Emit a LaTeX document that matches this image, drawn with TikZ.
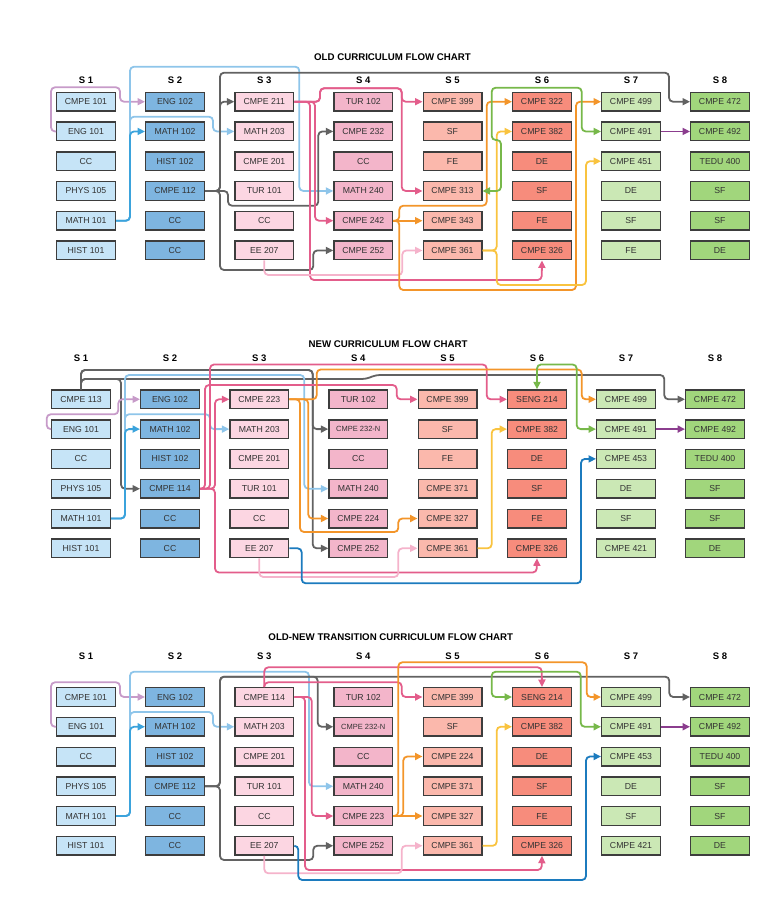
\documentclass[tikz,border=0pt]{standalone}
\usepackage{fontspec}
\setmainfont{Liberation Sans}
\usetikzlibrary{arrows.meta}

\definecolor{boxline}{HTML}{3D3D3D}
\definecolor{textgrey}{HTML}{333333}
\definecolor{sem1}{HTML}{C6E4F7}
\definecolor{sem2}{HTML}{7EB5E0}
\definecolor{sem3}{HTML}{FCD6E2}
\definecolor{sem4}{HTML}{F3B5CA}
\definecolor{sem5}{HTML}{FBB8AC}
\definecolor{sem6}{HTML}{F78C7C}
\definecolor{sem7}{HTML}{CBE8B5}
\definecolor{sem8}{HTML}{A1D67C}
\definecolor{clav}{HTML}{C79BC9}
\definecolor{clight}{HTML}{8EC5EA}
\definecolor{cblue}{HTML}{3BA3DC}
\definecolor{cdeep}{HTML}{1C7BBE}
\definecolor{cgrey}{HTML}{626262}
\definecolor{cpink}{HTML}{E35D8B}
\definecolor{clpink}{HTML}{F5B3CB}
\definecolor{corange}{HTML}{F3952A}
\definecolor{cyellow}{HTML}{F9C33F}
\definecolor{cgreen}{HTML}{77B84A}
\definecolor{cpurple}{HTML}{8B3D8E}

\newcommand\smallcode{\fontsize{7.5}{9}\selectfont}

\tikzset{
  course/.style={draw=boxline, line width=1.4pt, minimum width=58.6pt,
    minimum height=18.6pt, inner sep=0pt, text=textgrey,
    font=\fontsize{8.7}{10}\selectfont},
  semlabel/.style={font=\bfseries\fontsize{9.5}{11}\selectfont},
  charttitle/.style={font=\bfseries\fontsize{9.7}{11}\selectfont},
  link/.style={line width=1.8pt, rounded corners=4pt, ->},
}

\begin{document}
\begin{tikzpicture}
  [x=1pt, y=-1pt, >={Triangle[length=7.5pt,width=7pt]}]
  \useasboundingbox (0,0) rectangle (781,906);

  % old curriculum
  \node[charttitle] (otitle) at (392.5,57) {OLD CURRICULUM FLOW CHART};
  \foreach \s/\x/\list in {
    1/86/{CMPE 101,ENG 101,CC,PHYS 105,MATH 101,HIST 101},
    2/175/{ENG 102,MATH 102,HIST 102,CMPE 112,CC,CC},
    3/264.3/{CMPE 211,MATH 203,CMPE 201,TUR 101,CC,EE 207},
    4/363.3/{TUR 102,CMPE 232,CC,MATH 240,CMPE 242,CMPE 252},
    5/452.5/{CMPE 399,SF,FE,CMPE 313,CMPE 343,CMPE 361},
    6/542/{CMPE 322,CMPE 382,DE,SF,FE,CMPE 326},
    7/631/{CMPE 499,CMPE 491,CMPE 451,DE,SF,FE},
    8/720/{CMPE 472,CMPE 492,TEDU 400,SF,SF,DE}}
  {
    \node[semlabel] (os\s) at (\x,80.7) {S \s};
    \foreach \t [count=\r] in \list
      \node[course, fill=sem\s] (o\s\r) at (\x,{101.7+29.75*(\r-1)}) {\t};
  }

  \draw[link, clav] (o12.west) -- (51,131.45) |- (120,87.3) |- (o21.west);
  \draw[link, clight] (o15.east) -| (130,66.7) -- (299.3,66.7) |- (o44.west);
  \draw[link, clight] (o15.east) -| (130,116.7) -- (213,116.7) |- (o32.west);
  \draw[link, cblue] (o15.east) -- (130,220.7) |- (o22.west);
  \draw[link, cgrey] (o24.east) -- (228,190.95) |- (318.3,205.7) |- (o42.west);
  \draw[link, cgrey] (o24.east) -- (220,190.95) |- (o31.west);
  \draw[link, cgrey] (o24.east) -| (220,72.7) -- (669,72.7) |- (o81.west);
  \draw[link, cgrey] (o24.east) -| (220,270) -- (313.3,270) |- (o46.west);
  \draw[link, cpink] (o31.east) -- (320,101.7) |- (401.7,88.3) |- (o51.west);
  \draw[link, cpink] (o31.east) -- (320,101.7) |- (401.7,88.3) |- (o54.west);
  \draw[link, cpink] (o31.east) -- (315,101.7) |- (o45.west);
  \draw[link, cpink] (o31.east) -- (310,101.7) |- (541.7,280) -- (o66.south);
  \draw[link, clpink] (o36.south) |- (402.3,275) |- (o56.west);
  \draw[link, corange] (o45.east) -- (o55.west);
  \draw[link, corange] (o45.east) -- (399.3,220.7) |- (486.7,205.7) |- (o61.west);
  \draw[link, corange] (o45.east) -- (399.3,220.7) |- (576,290) |- (o71.west);
  \draw[link, cyellow] (o56.east) -- (496.7,250.45) |- (o62.west);
  \draw[link, cyellow] (o56.east) -- (496.7,250.45) |- (586,285) |- (o73.west);
  \draw[link, cgreen, <->] (o54.east) -| (501,140) -| (491.7,87.7)
    -- (581.7,87.7) |- (o72.west);
  \draw[link, cpurple] (o72.east) -- (o82.west);

  % new curriculum
  \node[charttitle] (ntitle) at (388,344.3) {NEW CURRICULUM FLOW CHART};
  \foreach \s/\x/\list in {
    1/81/{CMPE 113,ENG 101,CC,PHYS 105,MATH 101,HIST 101},
    2/170/{ENG 102,MATH 102,HIST 102,CMPE 114,CC,CC},
    3/259.3/{CMPE 223,MATH 203,CMPE 201,TUR 101,CC,EE 207},
    4/358.3/{TUR 102,{\smallcode CMPE 232-N},CC,MATH 240,CMPE 224,CMPE 252},
    5/447.5/{CMPE 399,SF,FE,CMPE 371,CMPE 327,CMPE 361},
    6/537/{SENG 214,CMPE 382,DE,SF,FE,CMPE 326},
    7/626/{CMPE 499,CMPE 491,CMPE 453,DE,SF,CMPE 421},
    8/715/{CMPE 472,CMPE 492,TEDU 400,SF,SF,DE}}
  {
    \node[semlabel] (ns\s) at (\x,358.3) {S \s};
    \foreach \t [count=\r] in \list
      \node[course, fill=sem\s] (n\s\r) at (\x,{399.3+29.8*(\r-1)}) {\t};
  }

  \draw[link, cgrey] (n11.north) |- (312.7,370) |- (n42.west);
  \draw[link, cgrey] (n11.north) |- (312.7,370) |- (n46.west);
  \draw[link, cgrey] (n11.north) |- (121,379) |- (n24.west);
  \draw[link, cgrey] (n11.north) |- (366,379) -- (376,375) -- (664.3,375) |- (n81.west);
  \draw[link, clav] (n12.west) -- (46.7,429.1) |- (118.3,414.3) |- (n21.west);
  \draw[link, clight] (n15.east) -| (125,375) -- (304.3,375) |- (n44.west);
  \draw[link, clight] (n15.east) -| (125,414.3) -- (210,414.3) |- (n32.west);
  \draw[link, cblue] (n15.east) -- (125,518.5) |- (n22.west);
  \draw[link, cpink] (n24.east) -- (215,488.7) |- (n31.west);
  \draw[link, cpink] (n24.east) -- (215,488.7) |- (536.7,572.5) -- (n66.south);
  \draw[link, cpink] (n24.east) -- (205,488.7) |- (396.7,385) |- (n51.west);
  \draw[link, cpink] (n24.east) -- (210,488.7) |- (486.7,364.5) |- (n61.west);
  \draw[link, corange] (n31.east) -- (316.7,399.3) |- (581.7,369.5) |- (n71.west);
  \draw[link, corange] (n31.east) -- (308.3,399.3) |- (n45.west);
  \draw[link, corange] (n31.east) -- (300,399.3) |- (398.3,532) |- (n55.west);
  \draw[link, clpink] (n36.south) |- (398.3,577) |- (n56.west);
  \draw[link, cdeep] (n36.east) -- (301.7,548.3) |- (581,583.3) |- (n73.west);
  \draw[link, cyellow] (n56.east) -- (491.7,548.3) |- (n62.west);
  \draw[link, cgreen, <->] (n61.north) |- (576.7,364.5) |- (n72.west);
  \draw[link, cpurple] (n72.east) -- (n82.west);

  % old-new transition
  \node[charttitle] (ttitle) at (390.8,636.7) {OLD-NEW TRANSITION CURRICULUM FLOW CHART};
  \foreach \s/\x/\list in {
    1/86/{CMPE 101,ENG 101,CC,PHYS 105,MATH 101,HIST 101},
    2/175/{ENG 102,MATH 102,HIST 102,CMPE 112,CC,CC},
    3/264.3/{CMPE 114,MATH 203,CMPE 201,TUR 101,CC,EE 207},
    4/363.3/{TUR 102,{\smallcode CMPE 232-N},CC,MATH 240,CMPE 223,CMPE 252},
    5/452.5/{CMPE 399,SF,CMPE 224,CMPE 371,CMPE 327,CMPE 361},
    6/542/{SENG 214,CMPE 382,DE,SF,FE,CMPE 326},
    7/631/{CMPE 499,CMPE 491,CMPE 453,DE,SF,CMPE 421},
    8/720/{CMPE 472,CMPE 492,TEDU 400,SF,SF,DE}}
  {
    \node[semlabel] (ts\s) at (\x,656) {S \s};
    \foreach \t [count=\r] in \list
      \node[course, fill=sem\s] (t\s\r) at (\x,{697+29.75*(\r-1)}) {\t};
  }

  \draw[link, clav] (t12.west) -- (51,726.75) |- (120,682.3) |- (t21.west);
  \draw[link, clight] (t15.east) -| (130,671.7) -- (309,671.7) |- (t44.west);
  \draw[link, clight] (t15.east) -| (130,712) -- (213,712) |- (t32.west);
  \draw[link, cblue] (t15.east) -- (130,816) |- (t22.west);
  \draw[link, cgrey] (t24.east) -| (220,676.7) -- (669.3,676.7) |- (t81.west);
  \draw[link, cgrey] (t24.east) -| (220,676.7) -- (317.7,676.7) |- (t42.west);
  \draw[link, cgrey] (t24.east) -| (220,860) -- (313.3,860) |- (t46.west);
  \draw[link, cpink] (t31.north) |- (541.7,667.3) -- (t61.north);
  \draw[link, cpink] (t31.north) |- (401.7,682.3) |- (t51.west);
  \draw[link, cpink] (t31.east) -- (305,697) |- (541.7,870) -- (t66.south);
  \draw[link, cpink] (t31.east) -- (311.7,697) |- (t45.west);
  \draw[link, corange] (t45.east) -- (398.3,816) |- (586.7,662.3) |- (t71.west);
  \draw[link, corange] (t45.east) -- (403.3,816) |- (t53.west);
  \draw[link, corange] (t45.east) -- (t55.west);
  \draw[link, clpink] (t36.south) |- (401.7,873.3) |- (t56.west);
  \draw[link, cdeep] (t36.east) -- (298.3,845.75) |- (586,880) |- (t73.west);
  \draw[link, cyellow] (t56.east) -- (496.7,845.75) |- (t62.west);
  \draw[link, cgreen, <->] (t61.west) -| (491.7,671.7) -- (580.7,671.7) |- (t72.west);
  \draw[link, cpurple] (t72.east) -- (t82.west);

\end{tikzpicture}
\end{document}
